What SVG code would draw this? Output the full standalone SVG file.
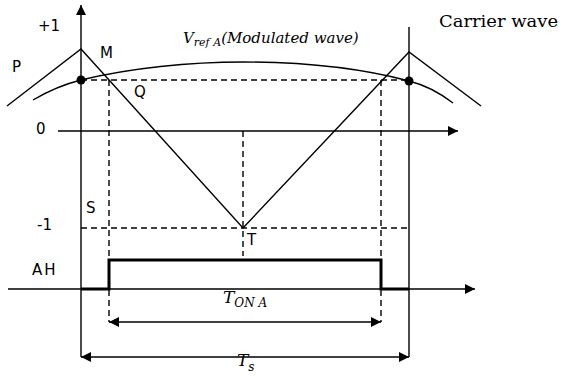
<svg xmlns="http://www.w3.org/2000/svg" width="563" height="376" viewBox="0 0 563 376">
<style>
.ln{stroke:#000;stroke-width:1.4;fill:none}
.ds{stroke:#000;stroke-width:1.4;fill:none;stroke-dasharray:6,4}
.pl{stroke:#000;stroke-width:3;fill:none}
.lb{font-family:"DejaVu Sans","Liberation Sans",sans-serif;font-size:15px;fill:#000}
.mt{font-family:"DejaVu Serif","Liberation Serif",serif;font-style:italic;fill:#000}
</style>
<defs>
<marker id="ah" viewBox="0 0 10 10" refX="10" refY="5" markerWidth="10" markerHeight="10" markerUnits="userSpaceOnUse" orient="auto-start-reverse">
<path d="M0,0 L10,5 L0,10 z" fill="#000"/>
</marker>
</defs>
<rect width="563" height="376" fill="#fff"/>
<g id="connectors">
<line class="ln" x1="81" y1="357" x2="81" y2="5" marker-end="url(#ah)"/>
<line class="ln" x1="58" y1="131" x2="458" y2="131" marker-end="url(#ah)"/>
<line class="ln" x1="8" y1="289" x2="475" y2="289" marker-end="url(#ah)"/>
<line class="ln" x1="409" y1="27" x2="409" y2="357"/>
</g>
<g id="carrier">
<polyline class="ln" points="7,106 81,49 243,228 409,52 481,106"/>
</g>
<g id="modulated">
<path class="ln" d="M33,100 C50,90 65,84 81,80 C130,68 190,62 243,62 C300,62 360,68 409,81 C425,85 440,93 453,103"/>
<circle cx="81" cy="80" r="4.5" fill="#000"/>
<circle cx="409" cy="81" r="4.5" fill="#000"/>
</g>
<g id="guides">
<line class="ds" x1="81" y1="80" x2="409" y2="80"/>
<line class="ds" x1="81" y1="228" x2="409" y2="228"/>
<line class="ds" x1="109" y1="80" x2="109" y2="322"/>
<line class="ds" x1="381" y1="80" x2="381" y2="322"/>
<line class="ds" x1="243" y1="131" x2="243" y2="256"/>
</g>
<g id="pulse">
<polyline class="pl" points="81,289 109,289 109,260 381,260 381,289 409,289"/>
</g>
<g id="dims">
<line class="ln" x1="109" y1="322" x2="381" y2="322" marker-start="url(#ah)" marker-end="url(#ah)"/>
<line class="ln" x1="81" y1="357" x2="409" y2="357" marker-start="url(#ah)" marker-end="url(#ah)"/>
</g>
<g id="labels">
<text class="lb" x="38" y="31">+1</text>
<text class="lb" x="12" y="72">P</text>
<text class="lb" x="100" y="58">M</text>
<text class="lb" x="134" y="97">Q</text>
<text class="lb" x="36" y="134">0</text>
<text class="lb" x="86" y="213">S</text>
<text class="lb" x="37" y="230">-1</text>
<text class="lb" x="247" y="245">T</text>
<text class="lb" x="32" y="275" font-size="16" letter-spacing="2">AH</text>
<text x="439" y="27" font-family="DejaVu Serif, Liberation Serif, serif" font-size="16" textLength="119" lengthAdjust="spacingAndGlyphs">Carrier wave</text>
<text class="mt" x="183" y="43" font-size="15">V<tspan font-size="11" dy="3">ref A</tspan><tspan dy="-3" font-size="15">(Modulated wave)</tspan></text>
<text class="mt" x="223" y="303" font-size="17">T<tspan font-size="12" dy="4">ON A</tspan></text>
<text class="mt" x="237" y="366" font-size="17">T<tspan font-size="12" dy="5">s</tspan></text>
</g>
</svg>
